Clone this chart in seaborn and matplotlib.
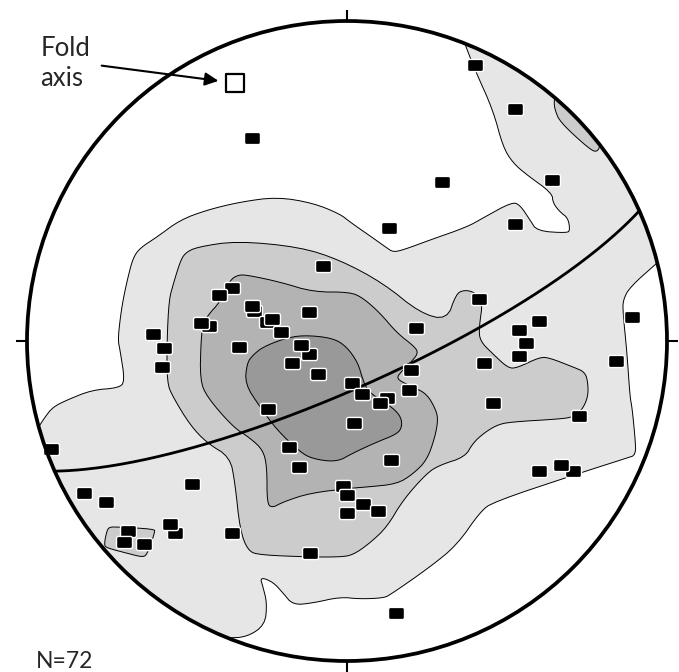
import numpy as np
import pandas as pd
import matplotlib
matplotlib.use("Agg")
import matplotlib.pyplot as plt
import seaborn as sns
from matplotlib.path import Path
from matplotlib.markers import MarkerStyle
from matplotlib.patches import Polygon, Circle

# ---------------- data (net coordinates: east, north; primitive radius = NET_R) ----------------
NET_R = 320

pole_e = [128, 168, -95, 95, 205, 42, 168, -24, 132, -115,
          -128, -93, -95, -80, -75, -66, -38, -138, -146, -194,
          -183, -185, -108, -38, -46, -55, -29, 69, 192, 172,
          179, 172, 285, 269, 137, 64, 5, 15, 40, 33,
          62, -79, 7, 146, 232, -58, -48, 44, -4, 0,
          16, 31, 0, -296, -263, -241, -155, -172, -177, -219,
          -223, -203, -115, 192, 226, 214, -37, 49]
pole_n = [276, 232, 203, 159, 161, 113, 117, 75, 42, 53,
          46, 30, 35, 19, 22, 9, 29, 15, 18, 7,
          -7, -26, -6, -13, -4, -22, -33, 13, 20, 11,
          -2, -15, 24, -20, -22, -29, -42, -53, -57, -62,
          -49, -68, -82, -62, -75, -106, -126, -119, -145, -154,
          -163, -170, -172, -108, -152, -161, -143, -192, -183, -190,
          -201, -203, -192, -130, -130, -124, -212, -272]

fold_axis_e = [-112]
fold_axis_n = [258]

girdle_strike = 66   # degrees
girdle_dip = 78      # degrees, dip direction = strike + 90

n_label = "N=72"
fold_label = ["Fold", "axis"]

# contour boundaries
c1_edge_right = [(310, 78), (283, 54), (276, 41), (276, 28), (280, -12), (283, -56), (285, -66),
                 (288, -96), (289, -114), (280, -117), (233, -132), (146, -161), (133, -171),
                 (110, -204), (83, -226), (43, -254), (36, -257), (13, -258), (-7, -256),
                 (-34, -262), (-54, -264), (-64, -252), (-74, -241), (-87, -236), (-84, -246),
                 (-80, -262), (-82, -284), (-100, -296), (-120, -297)]
c1_edge_left = [(-309, -87), (-302, -76), (-294, -66), (-280, -59), (-255, -49), (-229, -47),
                (-222, -41), (-227, -9), (-229, 1), (-227, 21), (-224, 41), (-219, 64), (-214, 83),
                (-207, 93), (-190, 104), (-167, 121), (-140, 131), (-107, 139), (-70, 144),
                (-34, 138), (-7, 127), (3, 119), (26, 103), (40, 93), (46, 89), (56, 91), (83, 101),
                (120, 114), (136, 123), (165, 139), (173, 136), (183, 121), (190, 110), (220, 108),
                (223, 111), (221, 123), (213, 129), (206, 138), (205, 148), (180, 166), (166, 178),
                (156, 194), (146, 231), (128, 271), (116, 302)]

c2_main = [(-162, 88), (-150, 94), (-110, 100), (-47, 94), (-7, 81), (36, 58), (73, 28), (100, 21),
           (109, 47), (117, 51), (127, 49), (136, 41), (132, 13), (133, 0), (146, -13), (161, -27),
           (170, -27), (193, -16), (203, -17), (226, -26), (238, -31), (241, -42), (241, -56),
           (235, -69), (226, -76), (213, -78), (163, -81), (150, -84), (137, -92), (126, -102),
           (118, -116), (93, -124), (80, -132), (56, -159), (40, -186), (23, -202), (6, -214),
           (-7, -216), (-37, -216), (-87, -214), (-99, -210), (-107, -189), (-112, -142),
           (-117, -116), (-140, -102), (-157, -84), (-174, -56), (-180, -42), (-180, 1),
           (-178, 41), (-174, 56), (-167, 79)]
c2_island_sw = [(-237, -186), (-230, -186), (-193, -188), (-192, -191), (-200, -214), (-205, -216),
                (-217, -213), (-240, -207), (-243, -204), (-240, -189)]
c2_island_ne = [(208, 243), (213, 241), (246, 209), (254, 198), (250, 188), (240, 194), (213, 219),
                (208, 231), (207, 239)]

c3_main = [(-117, 61), (-109, 66), (-100, 66), (-67, 59), (-34, 49), (3, 49), (16, 43), (33, 28),
           (50, 8), (68, -6), (71, -12), (66, -19), (53, -32), (50, -37), (55, -41), (66, -46),
           (80, -53), (89, -69), (91, -79), (88, -96), (80, -119), (66, -133), (50, -143),
           (20, -146), (6, -147), (-37, -152), (-64, -161), (-75, -167), (-80, -162), (-80, -126),
           (-84, -109), (-97, -97), (-114, -86), (-140, -56), (-147, -39), (-146, 1), (-144, 16),
           (-139, 26), (-127, 39)]

c4_main = [(-100, -22), (-94, -14), (-84, -6), (-64, 2), (-44, 6), (-14, 3), (0, -6), (11, -22),
           (15, -36), (20, -49), (33, -59), (46, -67), (54, -76), (55, -86), (50, -93), (30, -101),
           (6, -112), (-10, -121), (-34, -118), (-47, -111), (-70, -89), (-87, -66), (-102, -43)]

shades = ["#e6e6e6", "#cccccc", "#b3b3b3", "#999999"]


# ---------------- helpers ----------------
def chaikin(pts, n_iter=2, closed=True):
    p = np.asarray(pts, float)
    for _ in range(n_iter):
        if closed:
            p0, q = p, np.roll(p, -1, axis=0)
        else:
            p0, q = p[:-1], p[1:]
        a = 0.75 * p0 + 0.25 * q
        b = 0.25 * p0 + 0.75 * q
        new = np.empty((2 * len(a), 2))
        new[0::2] = a
        new[1::2] = b
        if not closed:
            new = np.vstack([p[:1], new, p[-1:]])
        p = new
    return p


def arc(p_from, p_to, r):
    a0 = np.degrees(np.arctan2(p_from[0], p_from[1])) % 360
    a1 = np.degrees(np.arctan2(p_to[0], p_to[1])) % 360
    if a1 < a0:
        a1 += 360
    az = np.radians(np.linspace(a0, a1, 60))
    return np.column_stack([r * np.sin(az), r * np.cos(az)])


def great_circle(strike, dip, r):
    s = np.radians(strike)
    dd = np.radians(strike + 90)
    dp = np.radians(dip)
    sv = np.array([np.sin(s), np.cos(s), 0.0])
    dv = np.array([np.sin(dd) * np.cos(dp), np.cos(dd) * np.cos(dp), np.sin(dp)])
    t = np.radians(np.linspace(0.3, 179.7, 200))
    v = np.outer(np.cos(t), sv) + np.outer(np.sin(t), dv)
    k = 1.0 / np.sqrt(1.0 + v[:, 2])
    return v[:, 0] * k * r, v[:, 1] * k * r


def rounded_rect(w, h, rad, n=5):
    pts = []
    for cx, cy, a0 in [(w / 2 - rad, h / 2 - rad, 0), (-w / 2 + rad, h / 2 - rad, 90),
                       (-w / 2 + rad, -h / 2 + rad, 180), (w / 2 - rad, -h / 2 + rad, 270)]:
        for a in np.linspace(a0, a0 + 90, n):
            pts.append((cx + rad * np.cos(np.radians(a)), cy + rad * np.sin(np.radians(a))))
    pts.append(pts[0])
    codes = [Path.MOVETO] + [Path.LINETO] * (len(pts) - 2) + [Path.CLOSEPOLY]
    return Path(pts, codes)


# ---------------- figure ----------------
sns.set_style("white")
plt.rcParams["font.family"] = ["Lato", "DejaVu Sans"]

fig = plt.figure(figsize=(6.79, 6.72), dpi=100)
ax = fig.add_axes([0, 0, 1, 1])
ax.set_xlim(-347, 332)
ax.set_ylim(-331, 341)
ax.set_aspect("equal")
ax.axis("off")

clip = Circle((0, 0), NET_R, transform=ax.transData)

# contour fills
right = chaikin(c1_edge_right, 2, closed=False)
left = chaikin(c1_edge_left, 2, closed=False)
c1_poly = np.vstack([arc(left[-1], right[0], NET_R), right,
                     arc(right[-1], left[0], NET_R), left])
layers = [(c1_poly, shades[0]),
          (chaikin(c2_main), shades[1]),
          (chaikin(c2_island_sw), shades[1]),
          (chaikin(c2_island_ne), shades[1]),
          (chaikin(c3_main), shades[2]),
          (chaikin(c4_main), shades[3])]
for i, (poly, col) in enumerate(layers):
    patch = Polygon(poly, closed=True, facecolor=col, edgecolor="black", lw=0.7, zorder=1 + i * 0.1)
    ax.add_patch(patch)
    patch.set_clip_path(clip)

# girdle great circle
gx, gy = great_circle(girdle_strike, girdle_dip, NET_R)
sns.lineplot(x=gx, y=gy, sort=False, estimator=None, color="black", lw=2.0, ax=ax, zorder=3)

# poles
df = pd.DataFrame({"E": pole_e, "N": pole_n})
mk = MarkerStyle(rounded_rect(1.0, 0.76, 0.12))
sns.scatterplot(data=df, x="E", y="N", marker=mk, s=132, color="black", edgecolor="white",
                linewidth=1.0, ax=ax, zorder=5, legend=False)

# fold axis
fa = pd.DataFrame({"E": fold_axis_e, "N": fold_axis_n})
sns.scatterplot(data=fa, x="E", y="N", marker="s", s=150, color="white", edgecolor="black",
                linewidth=1.6, ax=ax, zorder=5, legend=False)
ax.annotate("", xy=(fold_axis_e[0], fold_axis_n[0]), xytext=(-96, 12.5), textcoords="offset points",
            arrowprops=dict(arrowstyle="-|>,head_length=0.45,head_width=0.22", color="black",
                            lw=1.5, shrinkA=0, shrinkB=12, mutation_scale=18), zorder=6)

# primitive circle and ticks
ax.add_patch(Circle((0, 0), NET_R, fill=False, ec="black", lw=2.7, zorder=7))
for az in [0, 90, 180, 270]:
    a = np.radians(az)
    ax.plot([NET_R * np.sin(a), (NET_R + 11) * np.sin(a)],
            [NET_R * np.cos(a), (NET_R + 11) * np.cos(a)], color="black", lw=1.5, zorder=7,
            solid_capstyle="butt")

# labels
ax.text(-306, 284.5, fold_label[0], fontsize=18.5, family=["Lato", "DejaVu Sans"], va="baseline", ha="left")
ax.text(-307, 254.5, fold_label[1], fontsize=18.5, family=["Lato", "DejaVu Sans"], va="baseline", ha="left")
ax.text(-311, -327, n_label, fontsize=16.5, family=["Lato", "DejaVu Sans"], va="baseline", ha="left")

fig.savefig("out.png", dpi=100)
